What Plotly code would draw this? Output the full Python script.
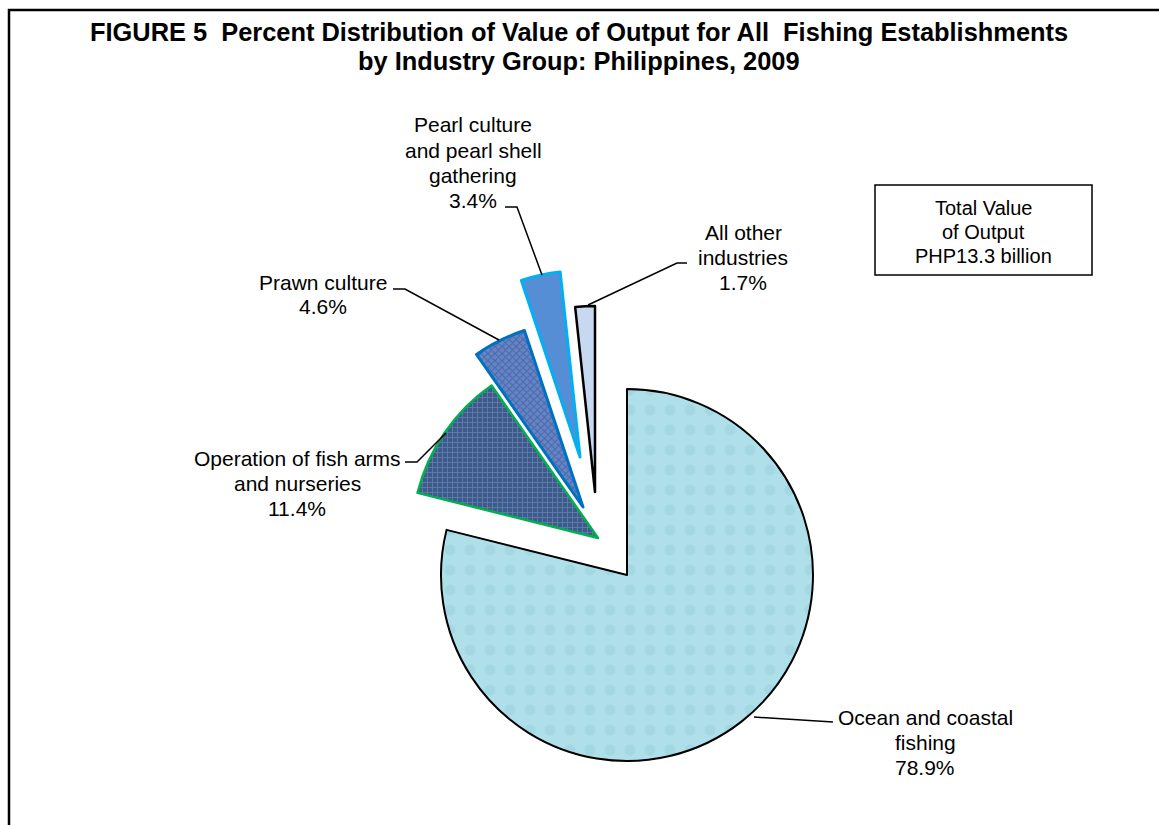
import plotly.graph_objects as go

# ---------------- data ----------------
categories = [
    "Ocean and coastal fishing",
    "Operation of fish arms and nurseries",
    "Prawn culture",
    "Pearl culture and pearl shell gathering",
    "All other industries",
]
values = [78.9, 11.4, 4.6, 3.4, 1.7]
label_lines = [
    ["Ocean and coastal", "fishing"],
    ["Operation of fish arms", "and nurseries"],
    ["Prawn culture"],
    ["Pearl culture", "and pearl shell", "gathering"],
    ["All other", "industries"],
]
title_lines = [
    "FIGURE 5\u00a0\u00a0Percent Distribution of Value of Output for All\u00a0\u00a0Fishing Establishments",
    "by Industry Group: Philippines, 2009",
]
total_lines = ["Total Value", "of Output", "PHP13.3 billion"]

# ---------------- styles / layout (pixels) ----------------
W, H = 1159, 825
pie_cx, pie_cy, pie_r = 627, 575, 186
explode_px = [(0, 0), (-29, -37), (-44, -68), (-47, -118), (-32, -83)]
fill_colors = ["#afe0ea", "#3d5a8c", "#6585c6", "#558ed5", "#c6d9f1"]
line_colors = ["#000000", "#00b050", "#0070c0", "#00b0f0", "#000000"]
line_widths = [2, 2.5, 3, 3, 2.5]
pat_shapes = [".", "+", "x", "", ""]
pat_fg = ["#97cfdc", "#8ea3c8", "#2c4784", "#558ed5", "#c6d9f1"]
pat_size = [20, 5, 5, 8, 8]
pat_solid = [0.25, 0.3, 0.35, 0.3, 0.3]

label_pos = [(925, 717), (297, 458), (323, 282), (473, 125), (743, 232)]
line_step = 25
leaders = [
    [(754, 717), (833, 722)],
    [(405, 462), (417, 462), (446, 433)],
    [(393, 289), (405, 289), (499, 340)],
    [(505, 207), (517, 207), (542, 275)],
    [(687, 263), (677, 263), (588, 305)],
]
FONT = "Arial, 'Liberation Sans', sans-serif"


def px(x):
    return x / W


def py(y):
    return 1 - y / H


fig = go.Figure()

# one pie trace per slice so each slice can be exploded independently
n = len(values)
for i in range(n):
    cx = pie_cx + explode_px[i][0]
    cy = pie_cy + explode_px[i][1]
    fig.add_trace(go.Pie(
        values=values,
        labels=categories,
        sort=False,
        direction="clockwise",
        rotation=0,
        textinfo="none",
        hoverinfo="label+percent",
        showlegend=False,
        marker=dict(
            colors=[fill_colors[j] if j == i else "rgba(0,0,0,0)" for j in range(n)],
            line=dict(
                color=[line_colors[j] if j == i else "rgba(0,0,0,0)" for j in range(n)],
                width=[line_widths[j] if j == i else 0 for j in range(n)],
            ),
            pattern=dict(
                shape=[pat_shapes[j] if j == i else "" for j in range(n)],
                fgcolor=pat_fg,
                size=pat_size,
                solidity=pat_solid,
                fillmode="overlay",
            ),
        ),
        domain=dict(
            x=[px(cx - pie_r), px(cx + pie_r)],
            y=[py(cy + pie_r), py(cy - pie_r)],
        ),
    ))

annotations = []
# title
for k, t in enumerate(title_lines):
    annotations.append(dict(
        x=px(579), y=py(32 + 29 * k), xref="paper", yref="paper",
        text="<b>" + t + "</b>", showarrow=False, xanchor="center", yanchor="middle",
        font=dict(family=FONT, size=25.4, color="black"),
    ))

# slice labels
for i in range(n):
    lines = label_lines[i] + [f"{values[i]:.1f}%"]
    lx, ly = label_pos[i]
    for k, t in enumerate(lines):
        annotations.append(dict(
            x=px(lx), y=py(ly + line_step * k), xref="paper", yref="paper",
            text=t, showarrow=False, xanchor="center", yanchor="middle",
            font=dict(family=FONT, size=21, color="black"),
        ))

# total box text
for k, t in enumerate(total_lines):
    annotations.append(dict(
        x=px(983), y=py(208 + 24 * k), xref="paper", yref="paper",
        text=t, showarrow=False, xanchor="center", yanchor="middle",
        font=dict(family=FONT, size=20, color="black"),
    ))

shapes = []
# outer frame
shapes.append(dict(type="rect", xref="paper", yref="paper",
                   x0=px(9), y0=py(840), x1=px(1175), y1=py(10),
                   line=dict(color="black", width=2.5)))
# total box
shapes.append(dict(type="rect", xref="paper", yref="paper",
                   x0=px(875), y0=py(275), x1=px(1092), y1=py(185),
                   line=dict(color="black", width=1.5)))
# leader lines
for pts in leaders:
    path = "M " + " L ".join(f"{px(x)},{py(y)}" for x, y in pts)
    shapes.append(dict(type="path", xref="paper", yref="paper", path=path,
                       line=dict(color="black", width=1.5)))

fig.update_layout(
    width=W, height=H,
    margin=dict(l=0, r=0, t=0, b=0),
    paper_bgcolor="white",
    plot_bgcolor="white",
    annotations=annotations,
    shapes=shapes,
)

fig.write_html("out.html", config={"displayModeBar": False},
               post_script="document.body.style.margin='0';")
